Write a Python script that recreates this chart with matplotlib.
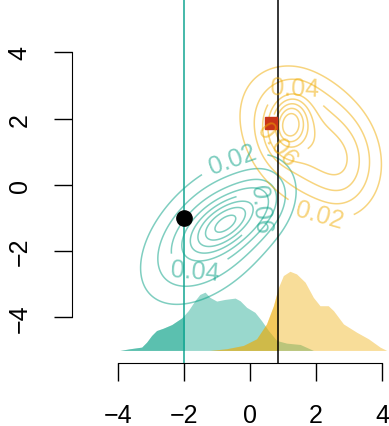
import numpy as np
import matplotlib
matplotlib.use('Agg')
import matplotlib.pyplot as plt
from matplotlib.patches import Rectangle

plt.rcParams['font.family'] = ['Liberation Sans', 'DejaVu Sans']

TEAL = '#009E82'
GOLD = '#EFAA00'
teal_line = (0.0, 0.62, 0.51, 0.5)
gold_line = (0.94, 0.67, 0.0, 0.5)

# 2d density bumps: centre, sd along major/minor axis, angle (deg), peak height
teal_cx = [-0.70, -1.10, 0.55]
teal_cy = [-1.15, -1.40, -0.35]
teal_sa = [0.85, 2.00, 0.75]
teal_sb = [0.42, 1.15, 0.60]
teal_ang = [35, 45, 80]
teal_peak = [0.045, 0.050, 0.010]

gold_cx = [1.20, 1.80, 2.90]
gold_cy = [1.85, 1.35, 0.50]
gold_sa = [0.55, 1.75, 0.90]
gold_sb = [0.38, 1.25, 0.55]
gold_ang = [80, -50, 85]
gold_peak = [0.050, 0.055, 0.010]

levels = [0.02, 0.03, 0.04, 0.05, 0.06, 0.07, 0.08, 0.09, 0.10]

teal_labels = {0.02: (-0.56, 0.85), 0.04: (-1.68, -2.32), 0.06: (-0.06, -0.67)}
gold_labels = {0.02: (2.27, -0.52), 0.04: (1.34, 2.67), 0.06: (0.52, 1.04)}

# marginal densities along x, drawn on a baseline
base = -5.0
teal_x = [-3.94, -3.64, -3.28, -3.13, -2.98, -2.83, -2.63, -2.37, -2.07, -1.87,
          -1.67, -1.52, -1.36, -1.21, -1.01, -0.76, -0.45, -0.30, -0.10, 0.15,
          0.35, 0.56, 0.81, 1.11, 1.52, 1.92]
teal_h = [0.00, 0.05, 0.10, 0.25, 0.45, 0.60, 0.67, 0.78, 0.98, 1.20,
          1.50, 1.69, 1.76, 1.60, 1.49, 1.54, 1.58, 1.50, 1.30, 1.15,
          0.90, 0.60, 0.30, 0.22, 0.18, 0.00]
gold_x = [-1.21, -0.71, -0.20, 0.20, 0.50, 0.71, 0.86, 1.01, 1.21, 1.41,
          1.67, 1.92, 2.12, 2.37, 2.53, 2.83, 3.23, 3.59, 3.94, 4.14]
gold_h = [0.00, 0.05, 0.15, 0.35, 0.80, 1.35, 1.90, 2.26, 2.39, 2.31,
          2.06, 1.60, 1.35, 1.35, 1.20, 0.80, 0.55, 0.35, 0.10, 0.00]

teal_cut = -2.0
gold_cut = 0.86
pt_x, pt_y = -2.0, -1.0
sq_x, sq_y = 0.65, 1.87


def density(gx, gy, cx, cy, sa, sb, ang, peak):
    z = np.zeros_like(gx)
    for x0, y0, a, b, t, p in zip(cx, cy, sa, sb, ang, peak):
        t = np.deg2rad(t)
        dx, dy = gx - x0, gy - y0
        u = dx * np.cos(t) + dy * np.sin(t)
        v = -dx * np.sin(t) + dy * np.cos(t)
        z += p * np.exp(-0.5 * ((u / a) ** 2 + (v / b) ** 2))
    return z


def draw_contours(ax, z, col, labels):
    # one contour set per level so each label lands on its own line
    for lev in levels:
        if z.max() < lev:
            continue
        cs = ax.contour(gx, gy, z, levels=[lev], colors=[col], linewidths=1.1)
        if lev in labels:
            ax.clabel(cs, manual=[labels[lev]], inline=True, inline_spacing=4,
                      fontsize=18, fmt='%.2f', colors=[col])


fig = plt.figure(figsize=(3.89, 4.27), dpi=100)
ax = fig.add_axes([0.1843, 0.1475, 0.8157, 0.8525])

gx, gy = np.meshgrid(np.linspace(-6, 6, 300), np.linspace(-6, 6, 300))
z_teal = density(gx, gy, teal_cx, teal_cy, teal_sa, teal_sb, teal_ang, teal_peak)
z_gold = density(gx, gy, gold_cx, gold_cy, gold_sa, gold_sb, gold_ang, gold_peak)
draw_contours(ax, z_teal, teal_line, teal_labels)
draw_contours(ax, z_gold, gold_line, gold_labels)

# marginals: full curve plus the lower tail shaded again
for xs, hs, col, cut in [(teal_x, teal_h, TEAL, teal_cut), (gold_x, gold_h, GOLD, gold_cut)]:
    xs = np.array(xs)
    top = base + np.array(hs)
    ax.fill_between(xs, base, top, color=col, alpha=0.4, lw=0)
    tail = ax.fill_between(xs, base, top, color=col, alpha=0.4, lw=0)
    tail.set_clip_path(Rectangle((-10, -10), cut + 10, 20, transform=ax.transData))

ax.axvline(teal_cut, color='#13A592', lw=1.1)
ax.axvline(gold_cut, color='black', lw=1.1)
ax.plot(pt_x, pt_y, 'o', color='black', ms=11)
ax.plot(sq_x, sq_y, 's', color='#C93418', ms=9)

ax.set_xlim(-5.40, 4.21)
ax.set_ylim(-5.38, 5.61)
for side in ['top', 'right']:
    ax.spines[side].set_visible(False)
ax.spines['left'].set_bounds(-4, 4)
ax.spines['bottom'].set_bounds(-4, 4)
ax.set_xticks([-4, -2, 0, 2, 4])
ax.set_yticks([-4, -2, 0, 2, 4])
ax.tick_params(length=12.7, width=1, labelsize=18)
ax.tick_params(axis='x', pad=16)
ax.tick_params(axis='y', pad=16, labelrotation=90)
for lab in ax.get_yticklabels():
    lab.set_va('center')

fig.savefig('out.png', dpi=100)
